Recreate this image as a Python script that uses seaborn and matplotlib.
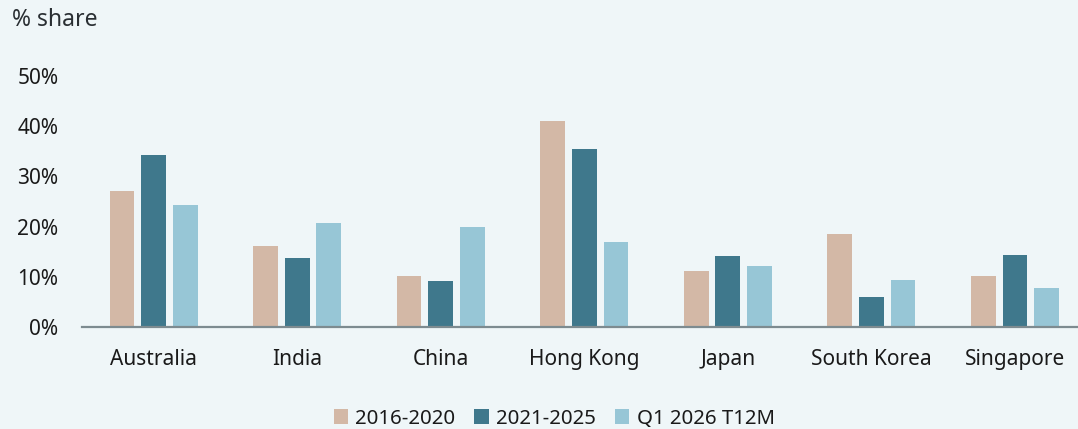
import matplotlib
matplotlib.use("Agg")
import matplotlib.pyplot as plt
import seaborn as sns
import pandas as pd

countries = ["Australia", "India", "China", "Hong Kong", "Japan", "South Korea", "Singapore"]
periods = ["2016-2020", "2021-2025", "Q1 2026 T12M"]
share_2016_2020 = [27.0, 16.1, 10.2, 41.1, 11.2, 18.6, 10.2]
share_2021_2025 = [34.3, 13.7, 9.1, 35.4, 14.2, 5.9, 14.3]
share_q1_2026_t12m = [24.4, 20.7, 20.0, 16.9, 12.2, 9.4, 7.8]
y_ticks = [0, 10, 20, 30, 40, 50]
y_tick_labels = ["0%", "10%", "20%", "30%", "40%", "50%"]

rows = []
for period, values in zip(periods, [share_2016_2020, share_2021_2025, share_q1_2026_t12m]):
    for country, v in zip(countries, values):
        rows.append({"country": country, "period": period, "share": v})
df = pd.DataFrame(rows)

bg = "#EFF6F8"
palette = {"2016-2020": "#D3B8A6", "2021-2025": "#3F788C", "Q1 2026 T12M": "#97C6D6"}
text_color = "#1A1A1A"

sns.set_theme(style="white")
plt.rcParams["font.family"] = ["Noto Sans", "DejaVu Sans"]

fig = plt.figure(figsize=(10.78, 4.29), dpi=100, facecolor=bg)
ax = fig.add_axes([0.076, 0.2378, 0.924, 0.585])
ax.set_facecolor(bg)

sns.barplot(data=df, x="country", y="share", hue="period", order=countries,
            hue_order=periods, palette=palette, width=0.66, gap=0.22,
            linewidth=0, saturation=1, ax=ax, legend=True)

ax.set_xlim(-0.5, 6.44)
ax.set_ylim(0, 50)
ax.set_yticks(y_ticks)
ax.set_yticklabels(y_tick_labels)
ax.set_xlabel("")
ax.set_ylabel("")
for s in ["top", "right", "left"]:
    ax.spines[s].set_visible(False)
ax.spines["bottom"].set_color("#7D8B90")
ax.spines["bottom"].set_linewidth(1.6)
ax.tick_params(axis="y", length=0, pad=17, labelsize=15, labelcolor=text_color)
ax.tick_params(axis="x", length=0, pad=16, labelsize=15, labelcolor=text_color)
ax.grid(False)

handles, labels = ax.get_legend_handles_labels()
ax.get_legend().remove()
fig.legend(handles, labels, loc="lower center", bbox_to_anchor=(0.514, -0.042),
           ncol=3, frameon=False, fontsize=14.7, handlelength=0.7, handleheight=0.7,
           handletextpad=0.35, columnspacing=0.95, labelcolor=text_color)

fig.text(0.011, 0.953, "% share", fontsize=16.5, color="#2A2F33", va="center", ha="left")

fig.savefig("out.png", dpi=100, facecolor=bg)
